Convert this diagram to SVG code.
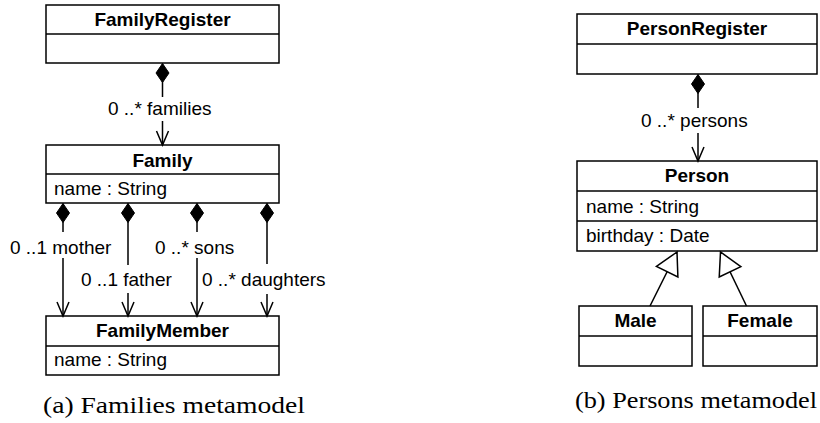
<svg xmlns="http://www.w3.org/2000/svg" width="820" height="423" viewBox="0 0 820 423">
  <style>
    .box { fill: #fff; stroke: #000; stroke-width: 1.5; }
    .div { stroke: #000; stroke-width: 1.5; }
    .title { font-family: "Liberation Sans", Arial, sans-serif; font-size: 19px; font-weight: bold; text-anchor: middle; fill: #000; }
    .attr { font-family: "Liberation Sans", Arial, sans-serif; font-size: 19px; fill: #000; }
    .lbl { font-family: "Liberation Sans", Arial, sans-serif; font-size: 19px; fill: #000; }
    .cap { font-family: "Liberation Serif", "Times New Roman", serif; font-size: 24px; fill: #000; }
    .assoc { fill: none; stroke: #000; stroke-width: 1.5; marker-start: url(#diamond); marker-end: url(#open); }
    .gen { fill: none; stroke: #000; stroke-width: 1.5; marker-end: url(#hollow); }
  </style>
  <defs>
    <marker id="diamond" markerUnits="userSpaceOnUse" orient="auto" refX="0" refY="0" markerWidth="1" markerHeight="1" overflow="visible">
      <path d="M0,0 L9.5,-6.5 L19,0 L9.5,6.5 Z" fill="#000" stroke="#000" stroke-width="1"/>
    </marker>
    <marker id="open" markerUnits="userSpaceOnUse" orient="auto" refX="0" refY="0" markerWidth="1" markerHeight="1" overflow="visible">
      <path d="M-14,-6 L0,0 L-14,6" fill="none" stroke="#000" stroke-width="1.5"/>
    </marker>
    <marker id="hollow" markerUnits="userSpaceOnUse" orient="auto" refX="0" refY="0" markerWidth="1" markerHeight="1" overflow="visible">
      <path d="M0,0 L-22,-12 L-22,12 Z" fill="#fff" stroke="#000" stroke-width="1.5" stroke-linejoin="miter"/>
    </marker>
  </defs>

  <!-- Families metamodel -->
  <g id="FamilyRegister">
    <rect class="box" x="46" y="5" width="233" height="58"/>
    <line class="div" x1="46" y1="34" x2="279" y2="34"/>
    <text class="title" x="162.5" y="26">FamilyRegister</text>
  </g>
  <g id="Family">
    <rect class="box" x="46" y="145" width="233" height="58"/>
    <line class="div" x1="46" y1="174" x2="279" y2="174"/>
    <text class="title" x="162.5" y="167">Family</text>
    <text class="attr" x="54" y="195">name : String</text>
  </g>
  <g id="FamilyMember">
    <rect class="box" x="46" y="316" width="233" height="59"/>
    <line class="div" x1="46" y1="346" x2="279" y2="346"/>
    <text class="title" x="162.5" y="337">FamilyMember</text>
    <text class="attr" x="54" y="366">name : String</text>
  </g>

  <!-- Persons metamodel -->
  <g id="PersonRegister">
    <rect class="box" x="577" y="14" width="240" height="60"/>
    <line class="div" x1="577" y1="44" x2="817" y2="44"/>
    <text class="title" x="697" y="35">PersonRegister</text>
  </g>
  <g id="Person">
    <rect class="box" x="577" y="161" width="240" height="90"/>
    <line class="div" x1="577" y1="191" x2="817" y2="191"/>
    <line class="div" x1="577" y1="221" x2="817" y2="221"/>
    <text class="title" x="697" y="182">Person</text>
    <text class="attr" x="586" y="213">name : String</text>
    <text class="attr" x="586" y="242">birthday : Date</text>
  </g>
  <g id="Male">
    <rect class="box" x="579" y="306" width="113" height="60"/>
    <line class="div" x1="579" y1="336" x2="692" y2="336"/>
    <text class="title" x="635.5" y="327">Male</text>
  </g>
  <g id="Female">
    <rect class="box" x="703" y="306" width="114" height="60"/>
    <line class="div" x1="703" y1="336" x2="817" y2="336"/>
    <text class="title" x="760" y="327">Female</text>
  </g>

  <!-- Connectors: compositions (broken around their role labels) and generalizations -->
  <g id="connectors">
    <path class="assoc" d="M162.5,63.5 V97 M162.5,121 V145"/>
    <path class="assoc" d="M63,203.5 V232 M63,258 V316"/>
    <path class="assoc" d="M128,203.5 V265 M128,293 V316"/>
    <path class="assoc" d="M197,203.5 V232 M197,258 V316"/>
    <path class="assoc" d="M267,203.5 V264 M267,294 V316"/>
    <path class="assoc" d="M698,74.5 V108 M698,133 V161"/>
    <path class="gen" d="M650,306 L677,252"/>
    <path class="gen" d="M746.5,306 L720.5,252"/>
  </g>

  <!-- Role labels -->
  <g id="labels">
    <text class="lbl" x="108" y="115">0 ..* families</text>
    <text class="lbl" x="10" y="254">0 ..1 mother</text>
    <text class="lbl" x="155" y="254">0 ..* sons</text>
    <text class="lbl" x="81" y="286">0 ..1 father</text>
    <text class="lbl" x="202" y="286">0 ..* daughters</text>
    <text class="lbl" x="641" y="127">0 ..* persons</text>
  </g>

  <!-- Captions -->
  <text class="cap" x="43" y="413" textLength="262" lengthAdjust="spacingAndGlyphs">(a) Families metamodel</text>
  <text class="cap" x="575" y="407.5" textLength="242" lengthAdjust="spacingAndGlyphs">(b) Persons metamodel</text>
</svg>
